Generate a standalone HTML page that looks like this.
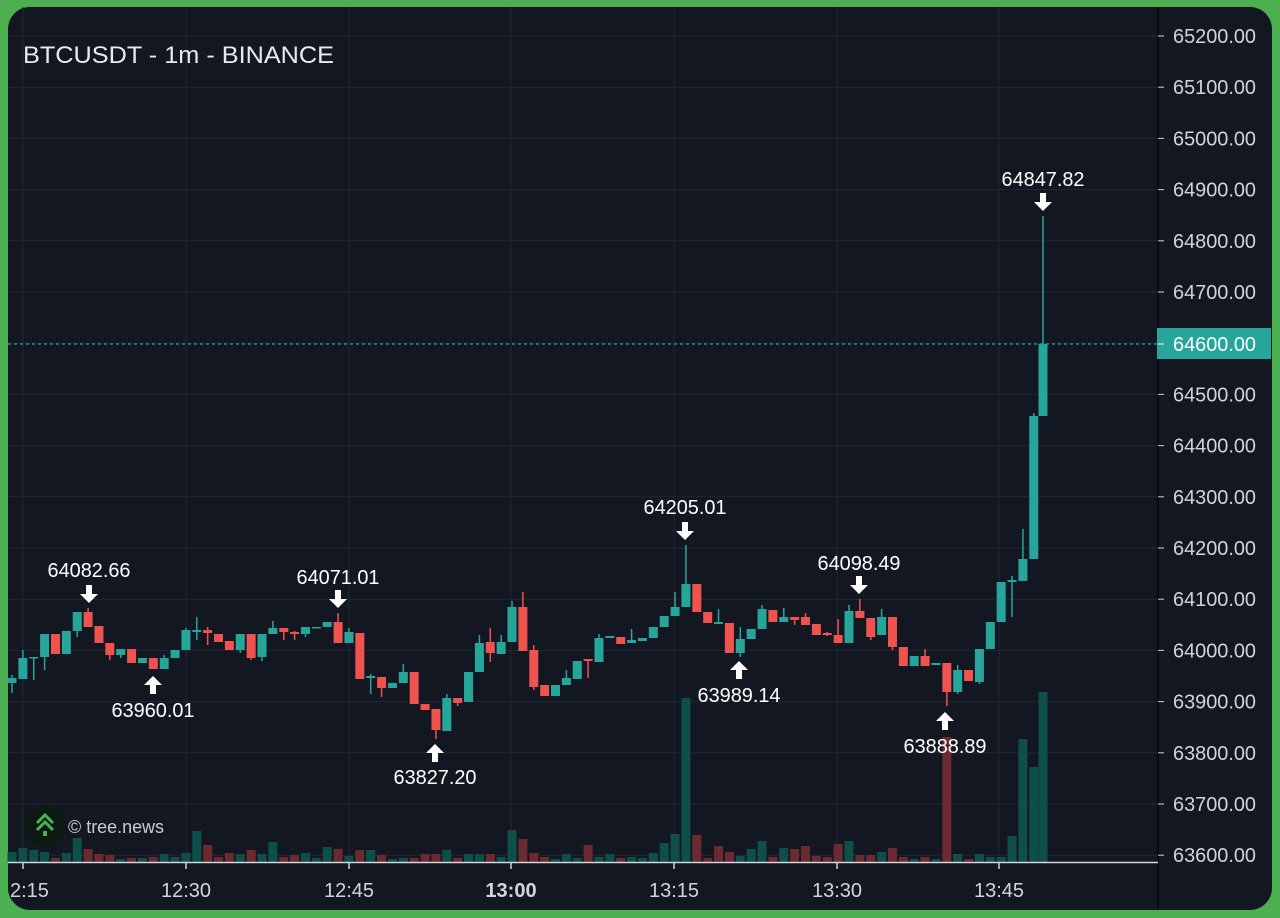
<!DOCTYPE html>
<html><head><meta charset="utf-8"><style>
html,body{margin:0;padding:0;width:1280px;height:918px;overflow:hidden;background:#4caf50;}
svg{display:block}
</style></head><body>
<svg id="s" width="1280" height="918" xmlns="http://www.w3.org/2000/svg" font-family="Liberation Sans, sans-serif">
<rect x="0" y="0" width="1280" height="918" fill="#4caf50"/>
<rect x="8" y="7" width="1264" height="903" rx="22" fill="#131722"/>
<g id="grid"></g>
<g id="vol"></g>
<g id="c"></g>
<line x1="8" y1="344" x2="1158" y2="344" stroke="#26a69a" stroke-width="1.3" stroke-dasharray="3,3"/>
<line x1="1158" y1="7" x2="1158" y2="910" stroke="#050608" stroke-width="1.5"/>
<line x1="8" y1="862.5" x2="1158" y2="862.5" stroke="#d1d4dc" stroke-width="1.5"/>
<g id="ax" fill="#d1d4dc" font-size="20"></g>
<rect x="1157" y="328" width="114" height="31" fill="#26a69a"/>
<line x1="1158" y1="344" x2="1164" y2="344" stroke="#fff" stroke-width="1"/>
<text x="1173" y="351" fill="#fff" font-size="20" textLength="83" lengthAdjust="spacingAndGlyphs">64600.00</text>
<text x="23" y="63" fill="#e8eaef" font-size="24" textLength="311" lengthAdjust="spacingAndGlyphs">BTCUSDT - 1m - BINANCE</text>
<g id="ann" fill="#fff" font-size="20"></g>
<circle cx="45" cy="826" r="21" fill="#0d1a14"/>
<path d="M37 823 L45 815 L53 823 M37 830 L45 822 L53 830" stroke="#4caf50" stroke-width="3" fill="none"/>
<rect x="43" y="831" width="4" height="5" fill="#4caf50"/>
<text x="68" y="833" fill="#c8cbd2" font-size="18" textLength="96" lengthAdjust="spacingAndGlyphs">© tree.news</text>
</svg>
<script>
var NS="http://www.w3.org/2000/svg";
function el(p,t,a,txt){var e=document.createElementNS(NS,t);for(var k in a)e.setAttribute(k,a[k]);if(txt!=null)e.textContent=txt;document.getElementById(p).appendChild(e);return e;}
function py(P){return 36+(65200-P)*0.512;}
for(var P=63600;P<=65200;P+=100){var y=py(P);
 el("grid","line",{x1:8,y1:y,x2:1158,y2:y,stroke:"#232733","stroke-width":1});
 el("ax","line",{x1:1158,y1:y,x2:1164,y2:y,stroke:"#d1d4dc","stroke-width":1});
 if(P!=64600)el("ax","text",{x:1173,y:y+7,textLength:83,lengthAdjust:"spacingAndGlyphs"},P.toFixed(2));}
var times=[[23,"2:15"],[186,"12:30"],[349,"12:45"],[511,"13:00"],[674,"13:15"],[837,"13:30"],[999,"13:45"]];
times.forEach(function(t){el("grid","line",{x1:t[0],y1:7,x2:t[0],y2:862,stroke:"#232733","stroke-width":1});
 el("ax","line",{x1:t[0],y1:862,x2:t[0],y2:869,stroke:"#d1d4dc","stroke-width":1.5});
 var a={x:t[0],y:897,"text-anchor":"middle"};if(t[1]=="2:15"){a.x=10;a["text-anchor"]="start";}
 if(t[1]=="13:00")a["font-weight"]="bold";
 el("ax","text",a,t[1]);});
var C=[[1,678,683,675,693],[1,658,679,650],[1,657,658,657,680],[1,634,657,634,670],[0,634,654],[1,631,654],[1,612,631,612,637],[0,612,627,608],[0,626,643],[0,643,655,643,660],
[1,649,655,649,658],[0,649,663],[1,658,663],[0,658,669],[1,658,669,655],[1,650,658],[1,630,650,628],[1,630,632,617,640],[0,630,633,627,645],[0,634,642],
[0,641,650],[1,634,650,634,653],[0,634,658,634,660],[1,634,657,634,661],[1,628,634,621],[0,628,632,628,640],[0,632,634,631,640],[1,627,634,627,637],[1,627,628],[1,622,627],
[0,622,643,613],[1,632,643,628],[0,633,679],[1,676,678,674,694],[0,677,688,677,697],[1,683,688],[1,672,683,664],[0,672,704],[0,704,710],[0,709,730,709,739],
[1,698,731,694],[0,698,703,698,706],[1,672,702],[1,643,672,635],[0,642,653,628,662],[1,642,654,635],[1,607,642,601],[0,607,651,592],[0,650,687,645,690],[0,685,696],
[1,685,696],[1,678,685,670],[1,661,679],[0,659,661,659,678],[1,638,662,634],[1,636,638],[0,637,644],[1,640,643,629],[1,638,641],[1,627,638],
[1,616,627],[1,607,616,592],[1,584,607,545],[0,584,612],[0,612,623],[1,622,624,609],[0,623,653],[1,639,653,627,657],[1,629,639],[1,609,629,605],
[0,610,622],[1,617,622,608],[0,617,620,617,625],[0,617,625,613],[0,624,635],[0,633,635,632,636],[0,635,643,619],[1,611,643,605],[0,611,618,599],[0,618,637,618,640],
[1,617,635,609],[0,617,647,617,650],[0,647,666],[1,656,666],[0,656,666,649],[1,663,665],[0,663,692,663,706],[1,670,692,665,694],[0,670,681],[1,649,682,649,684],
[1,622,649],[1,582,622],[1,580,582,576,617],[1,559,581,529],[1,416,559,413],[1,344,416,216]];
var V=[[1,10],[1,14],[1,12],[1,10],[0,4],[1,9],[1,24],[0,13],[0,8],[0,7],[1,3],[0,4],[1,4],[0,5],[1,8],[1,5],[1,9],[1,31],[0,17],[0,5],
[0,9],[1,8],[0,12],[1,8],[1,20],[0,5],[0,7],[1,9],[1,4],[1,15],[0,13],[1,6],[0,12],[1,12],[0,7],[1,3],[1,4],[0,4],[0,8],[0,8],
[1,12],[0,4],[1,8],[1,8],[0,8],[1,5],[1,32],[0,23],[0,9],[0,5],[1,3],[1,8],[1,4],[0,17],[1,5],[1,8],[0,4],[1,5],[1,4],[1,9],
[1,19],[1,28],[1,164],[0,27],[0,4],[0,16],[0,10],[1,6],[1,13],[1,21],[0,5],[1,14],[0,13],[0,16],[0,6],[0,5],[0,18],[1,21],[0,7],[0,7],
[1,10],[0,14],[0,5],[1,3],[0,5],[1,3],[0,125],[1,8],[0,3],[1,8],[1,5],[1,5],[1,26],[1,123],[1,95],[1,170]];
for(var i=0;i<C.length;i++){var d=C[i],x=12+i*10.87;if(i==95)x=1043;
 var col=d[0]?"#26a69a":"#ef5350";var hi=d[3]!=null?d[3]:d[1],lo=d[4]!=null?d[4]:d[2];
 var v=V[i];el("vol","rect",{x:x-4.5,y:862-v[1],width:9,height:v[1],fill:v[0]?"#0e4f4a":"#6b2a2f"});
 el("c","line",{x1:x,y1:hi,x2:x,y2:lo,stroke:col,"stroke-width":1.5});
 el("c","rect",{x:x-4.5,y:d[1],width:9,height:Math.max(1.5,d[2]-d[1]),fill:col});}
var A=[[89,"64082.66",1,603,577],[153,"63960.01",0,676,717],[338,"64071.01",1,608,584],[435,"63827.20",0,744,784],
[685,"64205.01",1,540,514],[739,"63989.14",0,661,702],[859,"64098.49",1,594,570],[945,"63888.89",0,712,753],[1043,"64847.82",1,211,186]];
A.forEach(function(a){var x=a[0],t=a[3];
 var p=a[2]?[[x,t],[x-9,t-9],[x-3,t-9],[x-3,t-18],[x+3,t-18],[x+3,t-9],[x+9,t-9]]:[[x,t],[x-9,t+9],[x-3,t+9],[x-3,t+18],[x+3,t+18],[x+3,t+9],[x+9,t+9]];
 el("ann","polygon",{points:p.map(function(q){return q.join(",")}).join(" ")});
 el("ann","text",{x:x,y:a[4],"text-anchor":"middle",textLength:83,lengthAdjust:"spacingAndGlyphs"},a[1]);});
</script>
</body></html>
